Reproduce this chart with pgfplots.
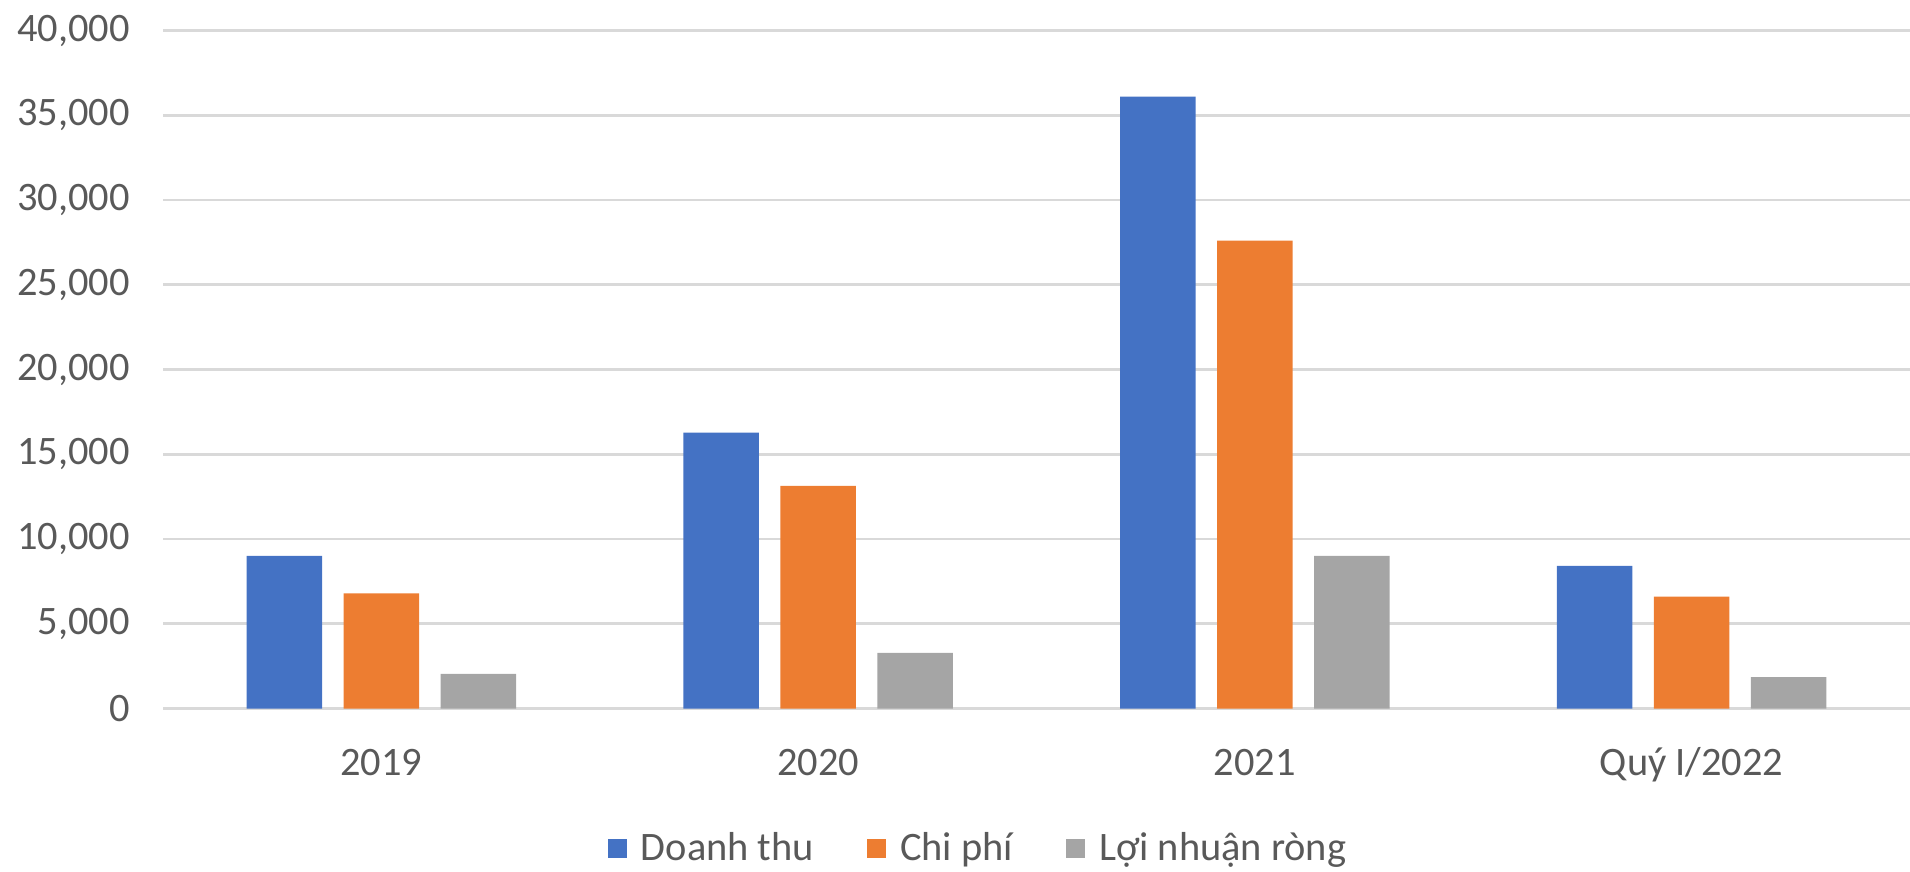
\documentclass[border=0pt]{standalone}
\usepackage{pgfplots}
\pgfplotsset{compat=1.18}
\usepackage{fontspec}
\setmainfont{Carlito}

\definecolor{cBlue}{HTML}{4472C4}
\definecolor{cOrange}{HTML}{ED7D31}
\definecolor{cGray}{HTML}{A5A5A5}
\definecolor{gridc}{HTML}{D9D9D9}
\definecolor{txt}{HTML}{595959}

\begin{document}
\begin{tikzpicture}
\begin{axis}[
    at={(1.63cm,-7.085cm)}, anchor=south west,
    scale only axis,
    width=17.47cm, height=6.78cm,
    xmin=-0.5, xmax=3.5,
    ymin=0, ymax=40000,
    xtick={0,1,2,3},
    xticklabels={2019,2020,2021,Quý I/2022},
    ytick={0,5000,...,40000},
    scaled y ticks=false,
    /pgf/number format/fixed,
    /pgf/number format/1000 sep={,},
    /pgf/number format/assume math mode=true,
    axis line style={draw=none},
    major tick length=0pt,
    ymajorgrids,
    major grid style={color=gridc, line width=0.75pt},
    tick label style={font=\fontsize{11.5}{14}\selectfont, color=txt},
    xticklabel style={anchor=base, yshift=-0.67cm},
    yticklabel style={anchor=east, xshift=-0.21cm},
    bar width=0.173,
    legend columns=3,
    legend style={at={(0.468,-0.207)}, anchor=center, draw=none,
        font=\fontsize{11.5}{14}\selectfont, text=txt,
        /tikz/every odd column/.append style={column sep=0.07cm},
        /tikz/every even column/.append style={column sep=0.46cm}},
    legend image code/.code={\fill[#1] (0cm,-0.095cm) rectangle (0.19cm,0.095cm);},
]
\addplot[ybar, bar shift=-0.222, fill=cBlue, draw=none]
    coordinates {(0,9000) (1,16270) (2,36100) (3,8420)};
\addlegendentry{Doanh thu}
\addplot[ybar, bar shift=0, fill=cOrange, draw=none]
    coordinates {(0,6800) (1,13130) (2,27600) (3,6600)};
\addlegendentry{Chi phí}
\addplot[ybar, bar shift=0.222, fill=cGray, draw=none]
    coordinates {(0,2050) (1,3290) (2,9000) (3,1850)};
\addlegendentry{Lợi nhuận ròng}
\end{axis}
\pgfresetboundingbox
\path[use as bounding box] (0,0) rectangle (19.1,-8.71);
\end{tikzpicture}
\end{document}
